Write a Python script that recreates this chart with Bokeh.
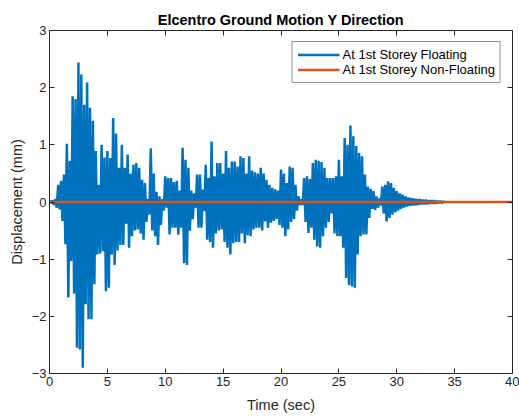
from bokeh.plotting import figure
from bokeh.models import FixedTicker, LinearAxis, Legend, LegendItem, Range1d
from bokeh.embed import file_html
from bokeh.resources import INLINE

# Response of the 1st storey to the El Centro record (Y direction), in mm.
# The floating case is stored as its positive and negative swing extremes,
# one pair per STEP seconds; the non-floating storey stays at rest.
STEP = 0.25  # seconds between successive positive extremes

floating_upper = [
    0.02, 0.03, 0.05, 0.30, 0.37, 0.48, 1.02, 0.72, 1.85, 1.80,   # 0.00 - 2.25
    2.44, 2.23, 1.70, 2.09, 1.65, 1.42, 0.89, 0.30, 1.00, 0.78,   # 2.50 - 4.75
    0.89, 0.77, 1.47, 1.20, 0.60, 1.00, 0.60, 0.83, 0.50, 0.65,   # 5.00 - 7.25
    0.68, 0.60, 0.39, 0.33, 0.05, 0.94, 0.50, 0.18, 0.10, 0.05,   # 7.50 - 9.75
    0.45, 0.42, 0.42, 0.35, 0.37, 0.20, 0.95, 0.74, 0.60, 0.20,   # 10.00 - 12.25
    0.15, 0.48, 0.48, 0.22, 0.65, 0.42, 1.06, 0.45, 0.68, 0.68,   # 12.50 - 14.75
    0.50, 0.89, 0.60, 0.71, 0.71, 0.62, 0.80, 0.77, 0.50, 0.80,   # 15.00 - 17.25
    0.55, 0.52, 0.50, 0.60, 0.50, 0.39, 0.30, 0.25, 0.22, 0.20,   # 17.50 - 19.75
    0.57, 0.50, 0.33, 0.62, 0.60, 0.30, 0.10, 0.05, 0.42, 0.45,   # 20.00 - 22.25
    0.40, 0.68, 0.74, 0.72, 0.70, 0.60, 0.42, 0.42, 0.42, 0.45,   # 22.50 - 24.75
    0.74, 0.45, 1.12, 1.00, 1.34, 1.15, 0.98, 0.86, 0.80, 0.48,   # 25.00 - 27.25
    0.27, 0.23, 0.19, 0.10, 0.06, 0.27, 0.30, 0.36, 0.33, 0.25,   # 27.50 - 29.75
    0.19, 0.15, 0.13, 0.10, 0.08, 0.07, 0.06, 0.05, 0.05, 0.04,   # 30.00 - 32.25
    0.04, 0.03, 0.03, 0.03, 0.02, 0.02, 0.01,                     # 32.50 - 34.00
]

floating_lower = [
    -0.02, -0.05, -0.10, -0.13, -0.33, -0.74, -1.67, -1.03, -1.60, -2.55,
    -2.58, -2.90, -1.79, -2.05, -2.05, -1.44, -0.92, -0.90, -0.86, -1.56,
    -1.50, -0.92, -1.10, -0.85, -0.75, -0.75, -0.38, -0.80, -0.60, -0.50,
    -0.48, -0.55, -0.66, -0.35, -0.22, -0.50, -0.60, -0.75, -0.40, -0.15,
    -0.10, -0.57, -0.45, -0.45, -0.57, -0.45, -1.07, -1.10, -0.50, -0.30,
    -0.10, -0.45, -0.45, -0.16, -0.66, -0.70, -0.80, -0.55, -0.50, -0.48,
    -0.70, -0.80, -0.92, -0.72, -0.70, -0.70, -0.55, -0.72, -0.58, -0.60,
    -0.48, -0.45, -0.45, -0.50, -0.34, -0.45, -0.36, -0.33, -0.30, -0.40,
    -0.45, -0.60, -0.48, -0.35, -0.30, -0.15, -0.05, -0.05, -0.35, -0.54,
    -0.45, -0.66, -0.78, -0.80, -0.60, -0.45, -0.35, -0.20, -0.55, -0.60,
    -0.60, -0.80, -1.33, -1.45, -1.48, -1.50, -0.92, -0.60, -0.57, -0.57,
    -0.28, -0.12, -0.14, -0.10, -0.06, -0.20, -0.34, -0.28, -0.22, -0.18,
    -0.15, -0.12, -0.10, -0.08, -0.07, -0.06, -0.06, -0.05, -0.04, -0.04,
    -0.04, -0.03, -0.03, -0.03, -0.02, -0.02, -0.01,
]

nonfloating_time = [0.0, 40.0]
nonfloating_disp = [0.0, 0.0]

x_ticks = [0, 5, 10, 15, 20, 25, 30, 35, 40]
y_ticks = [-3, -2, -1, 0, 1, 2, 3]

# interleave the extremes into one oscillating trace
floating_time, floating_disp = [], []
for k, (hi, lo) in enumerate(zip(floating_upper, floating_lower)):
    floating_time += [k * STEP, k * STEP + STEP / 2]
    floating_disp += [hi, lo]

INK = "#262626"
FONT = "Liberation Sans"

p = figure(
    width=519, height=419,
    x_range=Range1d(0, 40), y_range=Range1d(-3, 3),
    output_backend="svg", toolbar_location=None,
    min_border_left=49, min_border_right=7,
    min_border_top=30, min_border_bottom=46,
    background_fill_color="white", border_fill_color="white",
)

p.title.text = "Elcentro Ground Motion Y Direction"
p.title.align = "center"
p.title.text_font = FONT
p.title.text_font_size = "14.5px"
p.title.text_font_style = "bold"
p.title.text_color = "black"
p.title.standoff = 5

p.grid.visible = False
p.outline_line_color = INK
p.outline_line_width = 1

for ax in (p.xaxis[0], p.yaxis[0]):
    ax.major_label_text_font = FONT
    ax.major_label_text_font_size = "13px"
    ax.major_label_text_color = INK
    ax.axis_label_text_font = FONT
    ax.axis_label_text_font_size = "14.5px"
    ax.axis_label_text_font_style = "normal"
    ax.axis_label_text_color = INK
    ax.axis_line_color = INK
    ax.major_tick_line_color = INK
    ax.major_tick_in = 5
    ax.major_tick_out = 0
    ax.minor_tick_line_color = None
    ax.major_label_standoff = 3

p.xaxis.ticker = FixedTicker(ticks=x_ticks)
p.yaxis.ticker = FixedTicker(ticks=y_ticks)
p.xaxis.axis_label = "Time (sec)"
p.yaxis.axis_label = "Displacement (mm)"
p.xaxis.axis_label_standoff = 8
p.yaxis.axis_label_standoff = 4

# box-style tick marks along the top and right edges (no labels)
for loc, ticks in (("above", x_ticks), ("right", y_ticks)):
    ax = LinearAxis(ticker=FixedTicker(ticks=ticks))
    ax.major_label_text_font_size = "0px"
    ax.major_label_text_color = None
    ax.major_label_standoff = 0
    ax.major_tick_in = 5
    ax.major_tick_out = 0
    ax.minor_tick_line_color = None
    ax.axis_line_color = INK
    ax.major_tick_line_color = INK
    p.add_layout(ax, loc)

r_float = p.line(floating_time, floating_disp, line_color="#0072BD",
                 line_width=2.5, line_join="bevel")
r_non = p.line(nonfloating_time, nonfloating_disp, line_color="#D95319",
               line_width=2.5)

legend = Legend(
    items=[
        LegendItem(label="At 1st Storey Floating", renderers=[r_float]),
        LegendItem(label="At 1st Storey Non-Floating", renderers=[r_non]),
    ],
    location="top_right",
    label_text_font=FONT,
    label_text_font_size="13px",
    label_text_color="black",
    glyph_width=42, glyph_height=15,
    label_height=15, label_standoff=3,
    spacing=0, padding=5, margin=11,
    border_line_color=INK, border_line_width=1,
    background_fill_alpha=1.0,
)
p.add_layout(legend)

open("out.html", "w").write(file_html(p, INLINE))
